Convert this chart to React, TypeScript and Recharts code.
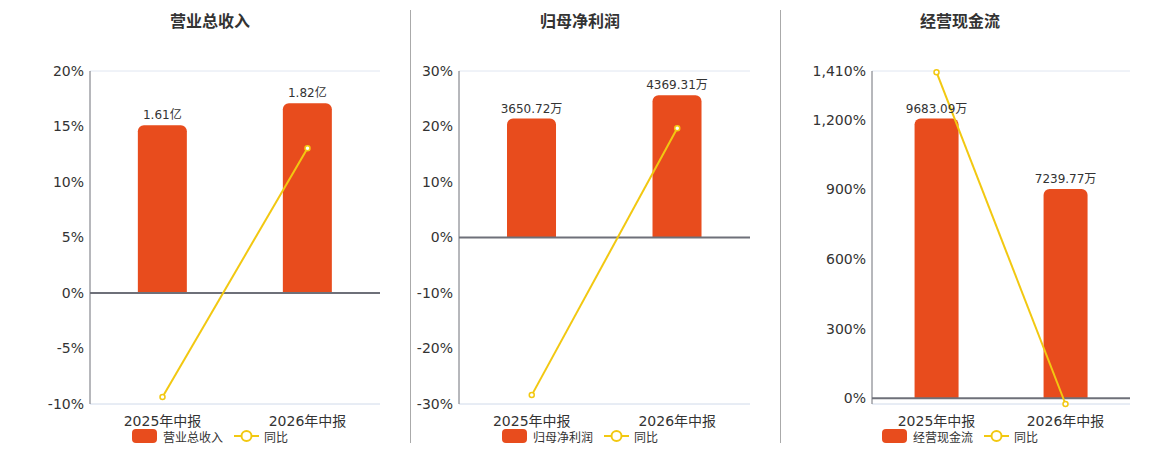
import React from 'react';
import {
  ComposedChart, Bar, Line, XAxis, YAxis, CartesianGrid, ReferenceLine, LabelList,
} from 'recharts';

const categories = ['2025年中报', '2026年中报'];

const revenue = [1.61, 1.82];
const revenueYoy = [-9.37, 13.04];
const revenueTicks = [-10, -5, 0, 5, 10, 15, 20];

const profit = [3650.72, 4369.31];
const profitYoy = [-28.4, 19.68];
const profitTicks = [-30, -20, -10, 0, 10, 20, 30];

const cashFlow = [9683.09, 7239.77];
const cashFlowYoy = [1405, -25.23];
const cashFlowTicks = [0, 300, 600, 900, 1200, 1410];

const BAR_COLOR = '#e84c1d';
const LINE_COLOR = '#f2c811';
const FONT = '"DejaVu Sans", "Noto Sans CJK SC", sans-serif';

interface PanelProps {
  title: string;
  left: number;
  width: number;
  axisWidth: number;
  center: number;
  values: number[];
  yoy: number[];
  unit: string;
  ticks: number[];
  domain: [number, number];
}

const Panel: React.FC<PanelProps> = ({ title, left, width, axisWidth, center, values, yoy, unit, ticks, domain }) => {
  const data = categories.map((c, i) => ({ name: c, value: values[i], yoy: yoy[i] }));
  // hidden axis for the bars, zero aligned with the percent axis
  const rMax = Math.max(...values) * 1.17;
  const rMin = (rMax * domain[0]) / domain[1];

  return (
    <>
      <div style={{ position: 'absolute', left: center - 100, width: 200, top: 12, lineHeight: '20px', textAlign: 'center', fontSize: 16, fontWeight: 'bold', color: '#333' }}>
        {title}
      </div>
      <div style={{ position: 'absolute', left, top: 0 }}>
        <ComposedChart width={width} height={450} data={data} barCategoryGap="33%"
          margin={{ top: 71, right: 20, bottom: 26, left: 0 }}>
          <CartesianGrid vertical={false} stroke="#e0e6f1" />
          <XAxis dataKey="name" height={20} axisLine={false} tickLine={false} tickMargin={6}
            tick={{ fontSize: 14, fill: '#333', fontFamily: FONT }} />
          <YAxis yAxisId="left" width={axisWidth} domain={domain} ticks={ticks} interval={0}
            tickLine={false} tickSize={0} tickMargin={6}
            axisLine={{ stroke: '#6e7079' }}
            tickFormatter={(v: number) => `${v.toLocaleString('en-US')}%`}
            tick={{ fontSize: 14, fill: '#333', fontFamily: FONT }} />
          <YAxis yAxisId="right" orientation="right" hide domain={[rMin, rMax]} />
          <ReferenceLine yAxisId="left" y={domain[0]} stroke="#e0e6f1" />
          <Bar yAxisId="right" dataKey="value" fill={BAR_COLOR} radius={[6, 6, 0, 0]}
            isAnimationActive={false}>
            <LabelList dataKey="value" position="top" offset={6}
              formatter={(v: number) => `${v}${unit}`}
              style={{ fontSize: 12, fill: '#333', fontFamily: FONT }} />
          </Bar>
          <ReferenceLine yAxisId="left" y={0} stroke="#6e7079" strokeWidth={2} />
          <Line yAxisId="left" dataKey="yoy" stroke={LINE_COLOR} strokeWidth={2}
            dot={{ r: 2.5, fill: '#fff', stroke: LINE_COLOR, strokeWidth: 1.5 }}
            isAnimationActive={false} />
        </ComposedChart>
      </div>
      <div style={{ position: 'absolute', left: center - 100, width: 200, top: 429, display: 'flex', justifyContent: 'center', alignItems: 'center', fontSize: 12, color: '#333', fontFamily: FONT, height: 14 }}>
        <span style={{ display: 'inline-block', width: 25, height: 14, borderRadius: 4, background: BAR_COLOR }} />
        <span style={{ marginLeft: 6 }}>{title}</span>
        <svg width={25} height={14} style={{ marginLeft: 11 }}>
          <line x1={0} y1={7} x2={25} y2={7} stroke={LINE_COLOR} strokeWidth={2} />
          <circle cx={12.5} cy={7} r={5} fill="#fff" stroke={LINE_COLOR} strokeWidth={2} />
        </svg>
        <span style={{ marginLeft: 5 }}>同比</span>
      </div>
    </>
  );
};

const App: React.FC = () => (
  <div style={{ position: 'fixed', left: 0, top: 0, width: 1160, height: 450, background: '#fff', fontFamily: FONT }}>
    <div style={{ position: 'absolute', left: 410, top: 10, width: 1, height: 433, background: '#aaa' }} />
    <div style={{ position: 'absolute', left: 780, top: 10, width: 1, height: 433, background: '#aaa' }} />
    <Panel title="营业总收入" left={0} width={400} axisWidth={90} center={210}
      values={revenue} yoy={revenueYoy} unit="亿" ticks={revenueTicks} domain={[-10, 20]} />
    <Panel title="归母净利润" left={410} width={360} axisWidth={49} center={580}
      values={profit} yoy={profitYoy} unit="万" ticks={profitTicks} domain={[-30, 30]} />
    <Panel title="经营现金流" left={780} width={370} axisWidth={92} center={960}
      values={cashFlow} yoy={cashFlowYoy} unit="万" ticks={cashFlowTicks} domain={[-25.23, 1410]} />
  </div>
);

export default App;
